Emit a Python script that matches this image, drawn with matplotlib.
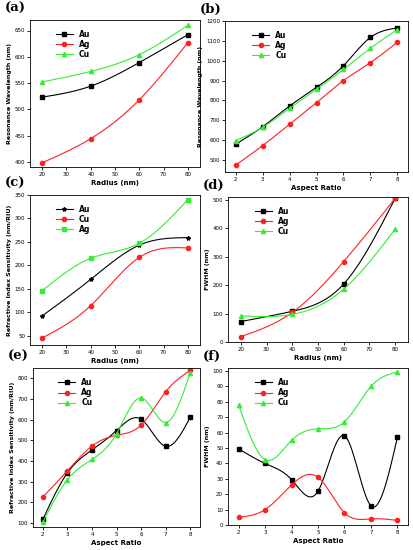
import numpy as np
import matplotlib
matplotlib.use("Agg")
import matplotlib.pyplot as plt

radius = [20, 40, 60, 80]
aspect = [2, 3, 4, 5, 6, 7, 8]

a_au = [523, 544, 589, 642]
a_ag = [398, 444, 518, 627]
a_cu = [552, 572, 604, 660]

b_au = [580, 668, 772, 866, 975, 1117, 1165]
b_ag = [475, 573, 680, 789, 900, 990, 1093]
b_cu = [598, 665, 760, 856, 956, 1062, 1157]

c_au = [92, 170, 243, 259]
c_cu = [45, 114, 217, 237]
c_ag = [146, 215, 247, 340]

d_au = [72, 108, 204, 505]
d_ag = [19, 104, 283, 505]
d_cu = [92, 97, 186, 397]

e_au = [117, 342, 453, 547, 602, 471, 611]
e_ag = [225, 352, 472, 524, 573, 735, 838]
e_cu = [103, 309, 407, 532, 705, 586, 827]

f_au = [49.5, 40, 29.5, 22, 58, 12.5, 57]
f_ag = [5, 10, 26, 31, 8, 4, 3]
f_cu = [78, 42.5, 55, 62.5, 67, 90, 99.5]

BLACK, RED, GREEN = "#000000", "#ff2020", "#33ee33"


def spline(x, y, n=200):
    x = np.asarray(x, float); y = np.asarray(y, float)
    m = len(x); h = np.diff(x)
    A = np.zeros((m, m)); r = np.zeros(m)
    A[0, 0] = A[-1, -1] = 1
    for i in range(1, m - 1):
        A[i, i - 1] = h[i - 1]; A[i, i] = 2 * (h[i - 1] + h[i]); A[i, i + 1] = h[i]
        r[i] = 3 * ((y[i + 1] - y[i]) / h[i] - (y[i] - y[i - 1]) / h[i - 1])
    c = np.linalg.solve(A, r)
    xs = np.linspace(x[0], x[-1], n); ys = np.empty_like(xs)
    for k, xv in enumerate(xs):
        i = min(np.searchsorted(x, xv, side="right") - 1, m - 2)
        b = (y[i + 1] - y[i]) / h[i] - h[i] * (2 * c[i] + c[i + 1]) / 3
        d = (c[i + 1] - c[i]) / (3 * h[i])
        t = xv - x[i]
        ys[k] = y[i] + b * t + c[i] * t * t + d * t ** 3
    return xs, ys


def series(ax, x, y, color, marker, label):
    xs, ys = spline(x, y)
    ax.plot(xs, ys, color=color, lw=0.8)
    ax.plot(x, y, color=color, marker=marker, ms=3, ls="none")
    ax.plot([], [], color=color, marker=marker, ms=3, lw=0.8, label=label)


fig = plt.figure(figsize=(4.13, 5.5), dpi=100)
W, H = 413, 550
boxes = {
    "a": (30, 20, 200, 167), "b": (225, 21, 408, 172),
    "c": (30, 195, 200, 345), "d": (228, 197, 408, 342),
    "e": (33, 368, 200, 527), "f": (228, 368, 408, 525),
}
axes = {}
for k, (l, t, r, b) in boxes.items():
    ax = fig.add_axes([l / W, 1 - b / H, (r - l) / W, (b - t) / H])
    axes[k] = ax
    ax.tick_params(labelsize=4, length=2, width=0.6, pad=1.5)
    for s in ax.spines.values():
        s.set_linewidth(0.6)
    fig.text((l - 25) / W, 1 - (t - 18) / H, f"({k})", fontsize=9.5,
             fontweight="bold", family="DejaVu Serif", va="top")

lab = dict(fontsize=5, fontweight="bold", labelpad=2)
ylab = dict(fontsize=4.5, fontweight="bold", labelpad=2)

ax = axes["a"]
series(ax, radius, a_au, BLACK, "s", "Au"); series(ax, radius, a_ag, RED, "o", "Ag"); series(ax, radius, a_cu, GREEN, "^", "Cu")
ax.set_xlim(15, 85); ax.set_ylim(390, 670)
ax.set_xticks([20, 30, 40, 50, 60, 70, 80]); ax.set_yticks([400, 450, 500, 550, 600, 650])
ax.set_xlabel("Radius (nm)", **lab); ax.set_ylabel("Resonance Wavelength (nm)", **ylab)

ax = axes["b"]
series(ax, aspect, b_au, BLACK, "s", "Au"); series(ax, aspect, b_ag, RED, "o", "Ag"); series(ax, aspect, b_cu, GREEN, "^", "Cu")
ax.set_xlim(1.6, 8.4); ax.set_ylim(440, 1200)
ax.set_yticks(range(500, 1201, 100))
ax.set_xlabel("Aspect Ratio", **lab); ax.set_ylabel("Resonance Wavelength (nm)", **ylab)

ax = axes["c"]
series(ax, radius, c_au, BLACK, "*", "Au"); series(ax, radius, c_cu, RED, "o", "Cu"); series(ax, radius, c_ag, GREEN, "s", "Ag")
ax.set_xlim(15, 85); ax.set_ylim(30, 350)
ax.set_xticks([20, 30, 40, 50, 60, 70, 80]); ax.set_yticks(range(50, 351, 50))
ax.set_xlabel("Radius (nm)", **lab); ax.set_ylabel("Refractive Index Sensitivity (nm/RIU)", **ylab)

ax = axes["d"]
series(ax, radius, d_au, BLACK, "s", "Au"); series(ax, radius, d_ag, RED, "o", "Ag"); series(ax, radius, d_cu, GREEN, "^", "Cu")
ax.set_xlim(15, 85); ax.set_ylim(0, 510)
ax.set_xticks([20, 30, 40, 50, 60, 70, 80]); ax.set_yticks(range(0, 501, 100))
ax.set_xlabel("Radius (nm)", **lab); ax.set_ylabel("FWHM (nm)", **ylab)

ax = axes["e"]
series(ax, aspect, e_au, BLACK, "s", "Au"); series(ax, aspect, e_ag, RED, "o", "Ag"); series(ax, aspect, e_cu, GREEN, "^", "Cu")
ax.set_xlim(1.6, 8.4); ax.set_ylim(80, 850)
ax.set_yticks(range(100, 801, 100))
ax.set_xlabel("Aspect Ratio", **lab); ax.set_ylabel("Refractive Index Sensitivity (nm/RIU)", **ylab)

ax = axes["f"]
series(ax, aspect, f_au, BLACK, "s", "Au"); series(ax, aspect, f_ag, RED, "o", "Ag"); series(ax, aspect, f_cu, GREEN, "^", "Cu")
ax.set_xlim(1.6, 8.4); ax.set_ylim(0, 102)
ax.set_yticks(range(0, 101, 10))
ax.set_xlabel("Aspect Ratio", **lab); ax.set_ylabel("FWHM (nm)", **ylab)

for ax in axes.values():
    ax.legend(loc="upper left", bbox_to_anchor=(0.12, 0.97), frameon=False,
              prop=dict(size=5.5, weight="bold"), handlelength=2.2,
              labelspacing=0.15, borderpad=0.2)

fig.savefig("out.png", dpi=100, facecolor="white")
